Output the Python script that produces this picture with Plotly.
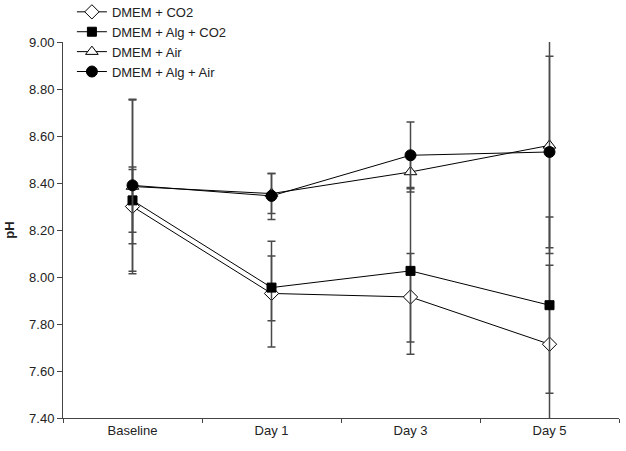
import plotly.graph_objects as go

categories = ["Baseline", "Day 1", "Day 3", "Day 5"]

co2_vals = [8.30, 7.93, 7.915, 7.714]
co2_plus = [0.157, 0.159, 0.185, 0.336]
co2_minus = [0.158, 0.116, 0.192, 0.331]

alg_co2_vals = [8.326, 7.955, 8.026, 7.88]
alg_co2_plus = [0.142, 0.197, 0.355, 0.375]
alg_co2_minus = [0.136, 0.253, 0.355, 0.375]

air_vals = [8.385, 8.355, 8.447, 8.56]
air_plus = [0.368, 0.085, 0.085, 0.46]
air_minus = [0.371, 0.085, 0.085, 0.46]

alg_air_vals = [8.39, 8.345, 8.518, 8.532]
alg_air_plus = [0.366, 0.095, 0.142, 0.407]
alg_air_minus = [0.366, 0.10, 0.142, 0.407]

y_ticks = [7.40, 7.60, 7.80, 8.00, 8.20, 8.40, 8.60, 8.80, 9.00]

series = [
    ("DMEM + CO2", co2_vals, co2_plus, co2_minus, "diamond", "white", 11),
    ("DMEM + Alg + CO2", alg_co2_vals, alg_co2_plus, alg_co2_minus, "square", "black", 9),
    ("DMEM + Air", air_vals, air_plus, air_minus, "triangle-up", "white", 11),
    ("DMEM + Alg + Air", alg_air_vals, alg_air_plus, alg_air_minus, "circle", "black", 11),
]

fig = go.Figure()
for name, vals, plus, minus, sym, fill, size in series:
    fig.add_trace(go.Scatter(
        x=categories, y=vals, name=name, mode="lines+markers",
        line=dict(color="black", width=1),
        marker=dict(symbol=sym, color=fill, size=size, line=dict(color="black", width=1)),
        error_y=dict(type="data", symmetric=False, array=plus, arrayminus=minus,
                     color="#4a4a4a", thickness=1.5, width=4),
        cliponaxis=False,
    ))

font = "Liberation Sans, Arial, sans-serif"
fig.update_layout(
    width=626, height=451,
    margin=dict(l=63, r=7, t=42, b=33, autoexpand=False),
    paper_bgcolor="white", plot_bgcolor="white",
    font=dict(family=font, size=13, color="#222"),
    showlegend=True,
    legend=dict(x=0.016, y=1.12, xanchor="left", yanchor="top",
                bgcolor="rgba(0,0,0,0)", font=dict(size=13, color="#222"),
                tracegroupgap=0),
    xaxis=dict(type="category", range=[-0.5, 3.5], tickson="boundaries",
               ticks="outside", ticklen=4, tickcolor="#444", showline=True,
               linecolor="#444", linewidth=1, showgrid=False, zeroline=False),
    yaxis=dict(range=[7.40, 9.00], tickvals=y_ticks,
               ticktext=[f"{v:.2f}" for v in y_ticks],
               ticks="outside", ticklen=5, tickcolor="#444", showline=True,
               linecolor="#444", linewidth=1, showgrid=False, zeroline=False,
               title=dict(text="<b>pH</b>", standoff=11, font=dict(size=13))),
)

fig.write_html("out.html", config={"displayModeBar": False},
               post_script="document.body.style.margin='0';")
